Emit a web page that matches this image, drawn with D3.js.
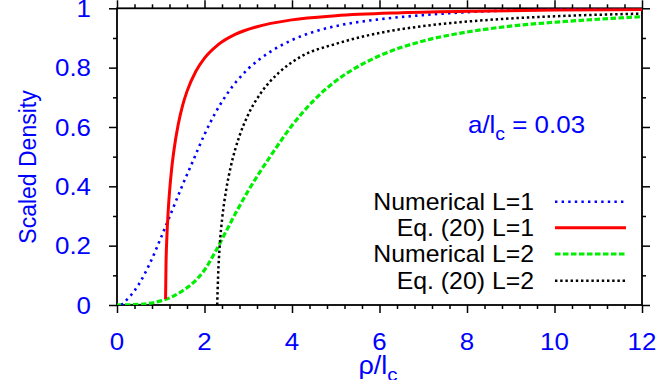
<!DOCTYPE html>
<html><head><meta charset="utf-8">
<script src="https://cdn.jsdelivr.net/npm/d3@7"></script>
<style>body{margin:0;background:#fff}svg{display:block}text{font-family:"Liberation Sans",Arial,Helvetica,sans-serif}</style>
</head><body>
<svg id="c" width="664" height="380"></svg>
<script>
// Data
const xTicks = [0, 2, 4, 6, 8, 10, 12];
const yTicks = [0, 0.2, 0.4, 0.6, 0.8, 1];
const yTickLabels = ["0", "0.2", "0.4", "0.6", "0.8", "1"];
const numL1X = [0.1, 0.3, 0.5, 0.75, 1.0, 1.25, 1.5, 1.75, 2.0, 2.25, 2.5, 2.75, 3.0, 3.5, 4.0, 4.5, 5.0, 6.0, 7.0, 8.0, 10.0, 12.0];
const numL1Y = [0.0, 0.03, 0.07, 0.14, 0.225, 0.315, 0.405, 0.49, 0.575, 0.648, 0.708, 0.757, 0.796, 0.853, 0.893, 0.921, 0.940, 0.963, 0.977, 0.987, 0.996, 0.999];
const eqL1X = [1.11, 1.12, 1.14, 1.17, 1.2, 1.25, 1.3, 1.4, 1.5, 1.6, 1.8, 2.0, 2.3, 2.7, 3.2, 4.0, 5.0, 6.5, 8.5, 10.0, 12.0];
const eqL1Y = [0.02, 0.133, 0.228, 0.316, 0.380, 0.460, 0.520, 0.609, 0.673, 0.720, 0.787, 0.832, 0.876, 0.912, 0.938, 0.961, 0.975, 0.985, 0.991, 0.994, 0.996];
const numL2X = [0, 0.5, 1.0, 1.25, 1.5, 1.75, 2.0, 2.25, 2.5, 2.75, 3.0, 3.5, 4.0, 4.5, 5.0, 5.5, 6.0, 7.0, 8.0, 9.0, 10.0, 11.0, 12.0];
const numL2Y = [0, 0.002, 0.014, 0.027, 0.048, 0.076, 0.118, 0.180, 0.250, 0.320, 0.385, 0.500, 0.605, 0.690, 0.755, 0.803, 0.840, 0.890, 0.920, 0.940, 0.953, 0.963, 0.972];
const eqL2X = [2.29, 2.31, 2.35, 2.4, 2.5, 2.6, 2.8, 3.0, 3.3, 3.7, 4.2, 5.0, 6.0, 7.0, 8.5, 10.0, 12.0];
const eqL2Y = [0.0, 0.093, 0.205, 0.286, 0.392, 0.466, 0.570, 0.642, 0.717, 0.783, 0.837, 0.880, 0.917, 0.940, 0.961, 0.973, 0.982];
const seriesNames = ["Numerical L=1", "Eq. (20) L=1", "Numerical L=2", "Eq. (20) L=2"];

const svg = d3.select("#c");
const x = d3.scaleLinear().domain([0, 12]).range([117, 642]);
const y = d3.scaleLinear().domain([0, 1]).range([305, 8.3]);
const blue = "#0000ff";
const SX = 1.08; // horizontal stretch of the reference glyphs

svg.append("defs").append("clipPath").attr("id","clip").append("rect")
  .attr("x", x(0)).attr("y", y(1)).attr("width", x(12)-x(0)).attr("height", y(0)-y(1));

// ticks (outward on all four sides)
const xMinor = d3.range(0, 12.001, 0.4).filter(v => Math.abs(v/2 - Math.round(v/2)) > 1e-6);
const yMinor = d3.range(0.1, 1, 0.2);
function axes(gen, tr, values, size) {
  const g = svg.append("g").attr("transform", tr)
    .call(gen.tickValues(values).tickSize(size).tickSizeOuter(0).tickFormat(""));
  g.select(".domain").remove();
  g.selectAll("line").attr("stroke", "#000").attr("stroke-width", 1.5);
}
const b = `translate(0,${y(0)})`, t = `translate(0,${y(1)})`, l = `translate(${x(0)},0)`, r = `translate(${x(12)},0)`;
axes(d3.axisBottom(x), b, xTicks, 8); axes(d3.axisBottom(x), b, xMinor, 4);
axes(d3.axisTop(x), t, xTicks, 8); axes(d3.axisTop(x), t, xMinor, 4);
axes(d3.axisLeft(y), l, yTicks, 8); axes(d3.axisLeft(y), l, yMinor, 4);
axes(d3.axisRight(y), r, yTicks, 8); axes(d3.axisRight(y), r, yMinor, 4);

svg.append("rect").attr("x", x(0)).attr("y", y(1)).attr("width", x(12)-x(0)).attr("height", y(0)-y(1))
  .attr("fill", "none").attr("stroke", "#000").attr("stroke-width", 1.8);

// tick labels
svg.append("g").selectAll("text").data(xTicks).join("text")
  .attr("transform", d => `translate(${x(d)},350) scale(${SX},1)`).attr("text-anchor", "middle")
  .attr("font-size", 24).attr("fill", blue).text(d => d);
svg.append("g").selectAll("text").data(yTicks).join("text")
  .attr("transform", d => `translate(91,${y(d)}) scale(${SX},1)`).attr("dy", "0.36em").attr("text-anchor", "end")
  .attr("font-size", 24).attr("fill", blue).text((d, i) => yTickLabels[i]);

// axis titles
svg.append("text").attr("transform", `translate(36,167) scale(${SX},1) rotate(-90)`).attr("text-anchor", "middle")
  .attr("font-size", 23).attr("fill", blue).text("Scaled Density");
const xt = svg.append("text").attr("transform", `translate(378,374) scale(${SX},1)`).attr("text-anchor", "middle")
  .attr("font-size", 25).attr("fill", blue);
xt.append("tspan").text("ρ/l");
xt.append("tspan").attr("dy", 7).attr("font-size", 19).text("c");

const an = svg.append("text").attr("transform", `translate(468,133) scale(${SX},1)`).attr("font-size", 24).attr("fill", blue);
an.append("tspan").text("a/l");
an.append("tspan").attr("dy", 7).attr("font-size", 18).text("c");
an.append("tspan").attr("dy", -7).text(" = 0.03");

// curves
const styles = [
  {color: blue, w: 2.6, dash: "2.4,4.2"},
  {color: "#ff0000", w: 3, dash: null},
  {color: "#00ee00", w: 3.2, dash: "5.5,2.5"},
  {color: "#000", w: 2.5, dash: "2.4,2.8"}
];
const data = [[numL1X, numL1Y], [eqL1X, eqL1Y], [numL2X, numL2Y], [eqL2X, eqL2Y]];
const line = d3.line().x(d => x(d[0])).y(d => y(d[1])).curve(d3.curveMonotoneX);
const cg = svg.append("g").attr("clip-path", "url(#clip)");
[2, 3, 0, 1].forEach(i => {
  const pts = data[i][0].map((v, k) => [v, data[i][1][k]]);
  cg.append("path").attr("d", line(pts)).attr("fill", "none")
    .attr("stroke", styles[i].color).attr("stroke-width", styles[i].w)
    .attr("stroke-dasharray", styles[i].dash);
});

// legend
const legY = [201.7, 227.7, 254, 280.7];
seriesNames.forEach((n, i) => {
  svg.append("text").attr("transform", `translate(534,${legY[i] + 7.8}) scale(${SX},1)`).attr("text-anchor", "end")
    .attr("font-size", 23).attr("fill", "#000").text(n);
  svg.append("line").attr("x1", 555).attr("x2", 626).attr("y1", legY[i]).attr("y2", legY[i])
    .attr("stroke", styles[i].color).attr("stroke-width", styles[i].w)
    .attr("stroke-dasharray", styles[i].dash);
});
</script>
</body></html>
